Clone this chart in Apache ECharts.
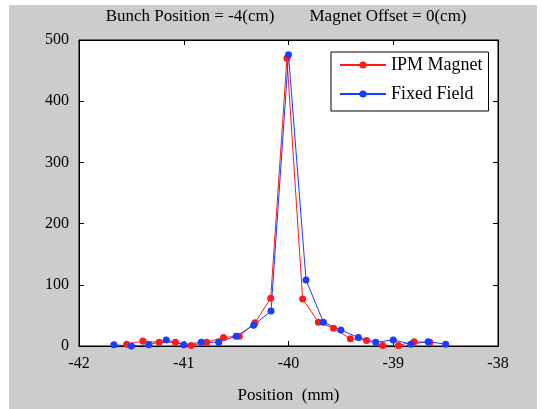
<!DOCTYPE html>
<html><head><meta charset="utf-8">
<script src="https://cdn.jsdelivr.net/npm/echarts@6/dist/echarts.min.js"></script>
<style>html,body{margin:0;padding:0;background:#fff}#c{width:543px;height:409px}</style>
</head><body><div id="c"></div>
<script>
const titleLeft = "Bunch Position = -4(cm)";
const titleRight = "Magnet Offset = 0(cm)";
const xName = "Position  (mm)";
const seriesNames = ["IPM Magnet", "Fixed Field"];
const xTicks = [-42, -41, -40, -39, -38];
const yTicks = [0, 100, 200, 300, 400, 500];

const redX = [-41.545, -41.39, -41.235, -41.08, -40.93, -40.78, -40.62, -40.47, -40.32, -40.17, -40.015, -39.865, -39.715, -39.57, -39.41, -39.255, -39.1, -38.95, -38.8, -38.65];
const redY = [3, 8, 6, 6, 1, 6, 14, 16, 38, 78, 470, 77, 39, 29, 12, 9, 1, 1, 7, 6];
const blueX = [-41.667, -41.5, -41.333, -41.167, -41.0, -40.833, -40.667, -40.5, -40.333, -40.167, -40.0, -39.833, -39.667, -39.5, -39.333, -39.167, -39.0, -38.833, -38.667, -38.5];
const blueY = [2, 0, 2, 10, 2, 6, 6, 16, 34, 57, 476, 108, 39, 26, 14, 6, 10, 3, 7, 3];

const FONT = "Liberation Serif";
const zip = (xs, ys) => xs.map((x, i) => [x, ys[i]]);

const chart = echarts.init(document.getElementById('c'), null, {renderer: 'canvas'});
const axisCommon = {
  axisLine: {show: true, onZero: false, lineStyle: {color: '#000', width: 1}},
  axisTick: {show: true, inside: true, length: 5, lineStyle: {color: '#000'}},
  splitLine: {show: false}
};
chart.setOption({
  animation: false,
  backgroundColor: '#fff',
  graphic: [
    {type: 'rect', z: -10, shape: {x: 9, y: 5, width: 528, height: 404}, style: {fill: '#cccccc'}},
    {type: 'text', x: 190, y: 17, style: {text: titleLeft, font: '17px "' + FONT + '"', fill: '#000', textAlign: 'center', textVerticalAlign: 'middle'}},
    {type: 'text', x: 388, y: 17, style: {text: titleRight, font: '17px "' + FONT + '"', fill: '#000', textAlign: 'center', textVerticalAlign: 'middle'}}
  ],
  grid: {left: 79, top: 40, width: 419, height: 310, show: true, backgroundColor: '#fff', borderColor: '#000', borderWidth: 1},
  legend: {
    orient: 'vertical', left: 331, top: 52,
    padding: [4, 6, 8, 8], itemWidth: 46, itemHeight: 9, itemGap: 11,
    backgroundColor: '#fff', borderColor: '#000', borderWidth: 1,
    textStyle: {fontFamily: FONT, fontSize: 18, color: '#000', width: 102},
    data: seriesNames
  },
  xAxis: [
    Object.assign({type: 'value', min: xTicks[0], max: xTicks[xTicks.length - 1], interval: 1, position: 'bottom',
      name: xName, nameLocation: 'middle', nameGap: 41,
      nameTextStyle: {fontFamily: FONT, fontSize: 17, color: '#000'},
      axisLabel: {fontFamily: FONT, fontSize: 16, color: '#000', margin: 10}}, axisCommon),
    Object.assign({type: 'value', min: xTicks[0], max: xTicks[xTicks.length - 1], interval: 1, position: 'top',
      axisLabel: {show: false}}, axisCommon)
  ],
  yAxis: [
    Object.assign({type: 'value', min: yTicks[0], max: yTicks[yTicks.length - 1], interval: 100, position: 'left',
      axisLabel: {fontFamily: FONT, fontSize: 16, color: '#000', margin: 10}}, axisCommon),
    Object.assign({type: 'value', min: yTicks[0], max: yTicks[yTicks.length - 1], interval: 100, position: 'right',
      axisLabel: {show: false}}, axisCommon)
  ],
  series: [
    {name: seriesNames[0], type: 'line', data: zip(redX, redY), symbol: 'circle', symbolSize: 7,
     lineStyle: {color: '#ff1a1a', width: 1}, itemStyle: {color: '#ff1a1a'}},
    {name: seriesNames[1], type: 'line', data: zip(blueX, blueY), symbol: 'circle', symbolSize: 7,
     lineStyle: {color: '#1a3cff', width: 1}, itemStyle: {color: '#1a3cff'}}
  ]
});
</script></body></html>
